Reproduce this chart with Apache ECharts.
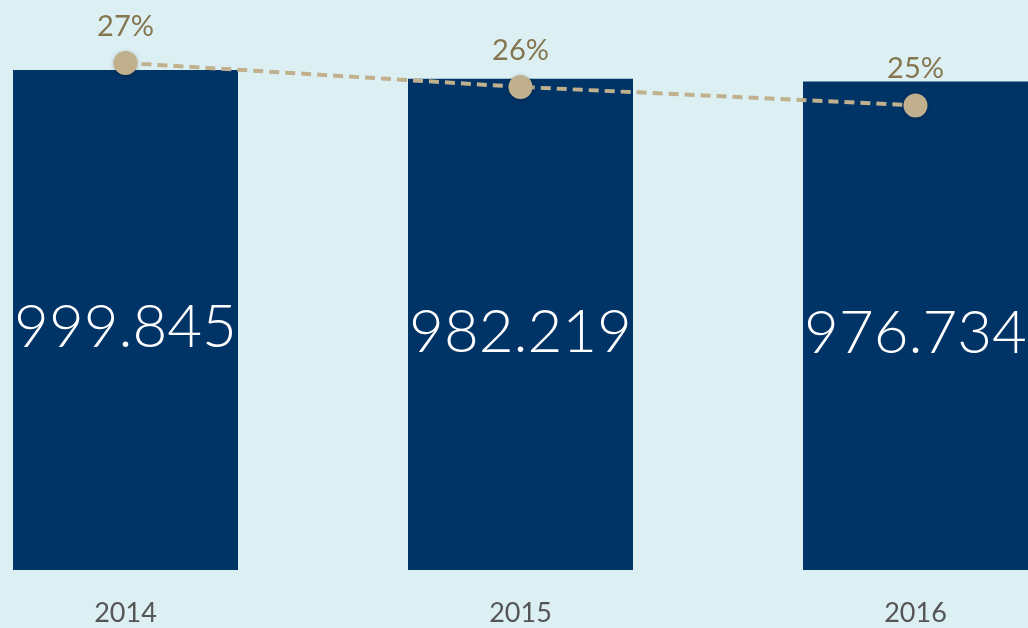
<!DOCTYPE html>
<html>
<head>
<meta charset="utf-8">
<script src="https://cdn.jsdelivr.net/npm/echarts@6/dist/echarts.min.js"></script>
<style>
  html, body { margin: 0; padding: 0; background: #dcf0f3; overflow: hidden; }
  #wrap { width: 1028px; height: 628px; overflow: hidden; position: relative; }
  /* 图表比视口宽，左右两侧被裁掉 */
  #chart { position: absolute; left: -72px; top: 0; width: 1185px; height: 628px; }
</style>
</head>
<body>
<div id="wrap"><div id="chart"></div></div>
<script>
// 数据
const years = ["2014", "2015", "2016"];
const totals = [999.845, 982.219, 976.734];
const shares = [27.3, 26.2, 25.35];

const chart = echarts.init(document.getElementById("chart"));
chart.setOption({
  backgroundColor: "#dcf0f3",
  animation: false,
  grid: { left: 0, right: 0, top: 20, bottom: 58 },
  xAxis: {
    type: "category",
    data: years,
    axisLine: { show: false },
    axisTick: { show: false },
    axisLabel: {
      color: "#555555",
      fontFamily: "Lato",
      fontSize: 27,
      margin: 30,
    },
  },
  yAxis: [
    { type: "value", min: 0, max: 1099.83, show: false },
    { type: "value", min: 4.04, max: 29.27, show: false },
  ],
  series: [
    {
      type: "bar",
      data: totals,
      barWidth: 225,
      itemStyle: { color: "#003366" },
      label: {
        show: true,
        position: "inside",
        offset: [0, 8],
        color: "#ffffff",
        fontFamily: "Lato",
        fontWeight: 300,
        fontSize: 60,
        formatter: (p) => p.value.toFixed(3),
      },
    },
    {
      type: "line",
      yAxisIndex: 1,
      data: shares,
      symbol: "circle",
      symbolSize: 24,
      lineStyle: { color: "#c0b08e", width: 4, type: [10, 6] },
      itemStyle: {
        color: "#c0b08e",
        shadowColor: "rgba(0,0,0,0.25)",
        shadowBlur: 4,
        shadowOffsetY: 1,
      },
      label: {
        show: true,
        position: "top",
        distance: 10,
        color: "#857650",
        fontFamily: "Lato",
        fontSize: 29,
        formatter: (p) => Math.round(p.value) + "%",
      },
      z: 5,
    },
  ],
});
</script>
</body>
</html>
